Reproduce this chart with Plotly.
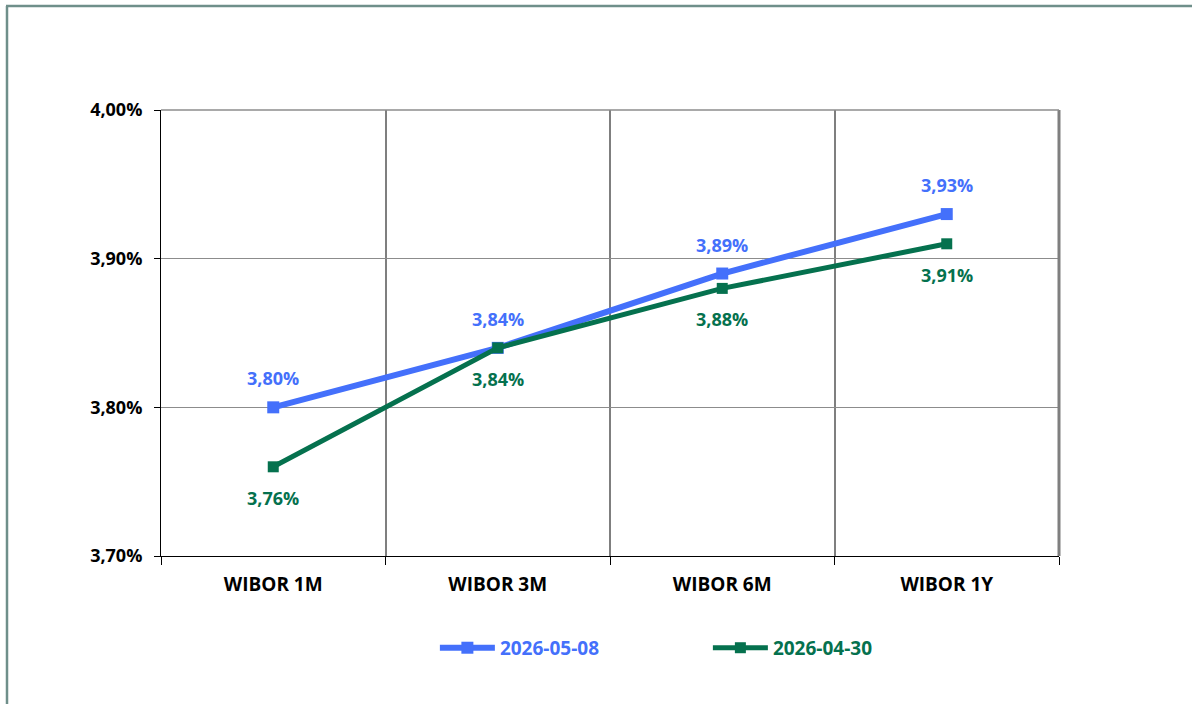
import plotly.graph_objects as go

categories = ["WIBOR 1M", "WIBOR 3M", "WIBOR 6M", "WIBOR 1Y"]
series_names = ["2026-05-08", "2026-04-30"]
values_0508 = [3.80, 3.84, 3.89, 3.93]
values_0430 = [3.76, 3.84, 3.88, 3.91]
y_ticks = [3.70, 3.80, 3.90, 4.00]

BLUE = "#4470FB"
GREEN = "#05714E"
FONT = "Open Sans"

fig = go.Figure()

series = [
    (series_names[0], values_0508, BLUE, 6, 12, 29),
    (series_names[1], values_0430, GREEN, 5, 11, -31),
]

for name, vals, col, lw, ms, shift in series:
    fig.add_trace(go.Scatter(
        x=categories,
        y=[v / 100 for v in vals],
        mode="lines+markers",
        name=f"<span style='color:{col}'>{name}</span>",
        line=dict(color=col, width=lw),
        marker=dict(symbol="square", size=ms, color=col),
        hoverinfo="skip",
    ))
    for c, v in zip(categories, vals):
        fig.add_annotation(
            x=c, y=v / 100, text=f"{v:.2f}%".replace(".", ","),
            showarrow=False, yshift=shift,
            font=dict(family=FONT, size=18, color=col, weight="bold"),
        )

fig.update_layout(
    width=1192, height=704,
    margin=dict(l=161, r=133, t=110, b=148),
    paper_bgcolor="white", plot_bgcolor="white",
    separators=", ",
    showlegend=True,
    legend=dict(
        orientation="h", x=0.609, xanchor="center", y=-0.206, yanchor="middle",
        font=dict(family=FONT, size=19, weight="bold"),
        entrywidth=203, itemwidth=55, traceorder="normal",
    ),
    font=dict(family=FONT, size=18, color="black"),
)

fig.update_xaxes(
    type="category", categoryorder="array", categoryarray=categories,
    range=[-0.5, 3.5], tickson="boundaries",
    showgrid=True, gridcolor="#7f7f7f", gridwidth=1.5,
    showline=True, linecolor="black", linewidth=1,
    ticks="outside", ticklen=8, tickcolor="black",
    ticklabelstandoff=11,
    tickfont=dict(family=FONT, size=19, color="black", weight="bold"),
    zeroline=False,
)
fig.update_yaxes(
    range=[0.037, 0.040], tickvals=[t / 100 for t in y_ticks], tickformat=".2%",
    showgrid=True, gridcolor="#8c8c8c", gridwidth=1,
    showline=True, linecolor="black", linewidth=1,
    ticks="outside", ticklen=6, tickcolor="black",
    ticklabelstandoff=8,
    tickfont=dict(family=FONT, size=18, color="black", weight="bold"),
    zeroline=False,
)

# right edge of plot area (darker gray) and top edge
fig.add_shape(type="line", xref="paper", yref="paper", x0=1, x1=1, y0=0, y1=1,
              line=dict(color="#7f7f7f", width=3))
fig.add_shape(type="line", xref="paper", yref="paper", x0=0, x1=1, y0=1, y1=1,
              line=dict(color="#8c8c8c", width=1.5))

# outer chart border (left and top)
px_x = lambda p: (p - 161) / 898
px_y = lambda p: (556 - p) / 446
fig.add_shape(type="line", xref="paper", yref="paper",
              x0=px_x(7), x1=px_x(7), y0=px_y(6), y1=px_y(710),
              line=dict(color="#6f8f8a", width=2.5))
fig.add_shape(type="line", xref="paper", yref="paper",
              x0=px_x(6), x1=px_x(1200), y0=px_y(6), y1=px_y(6),
              line=dict(color="#6f8f8a", width=2.5))

fig.write_html("out.html", config={"displayModeBar": False},
               post_script="document.body.style.margin='0px';")
